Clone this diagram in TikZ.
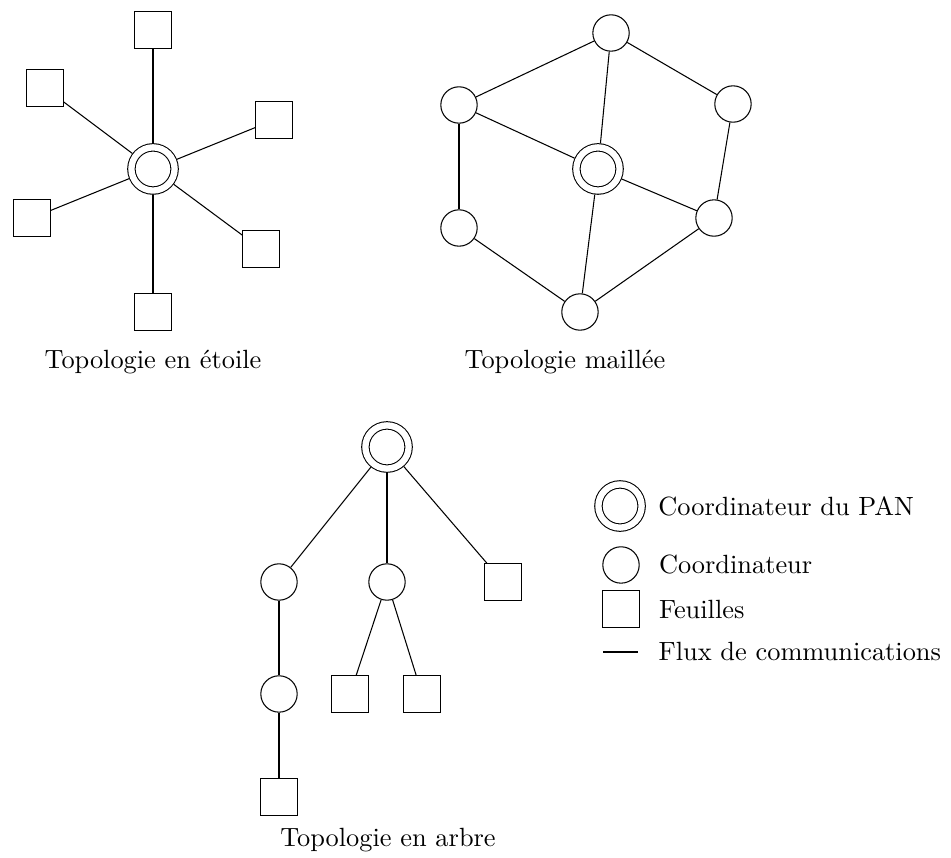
\documentclass[tikz,border=0pt]{standalone}
\usepackage{tikz}
\usetikzlibrary{shapes,positioning}
\tikzstyle{coordpan} = [draw,circle,minimum size=0.576cm,inner sep=0pt,double,double distance=2.4pt,outer sep=1.6pt]
\tikzstyle{coordo} = [draw,circle,minimum size=0.485cm,inner sep=0pt]
\tikzstyle{feuille} = [draw,rectangle,minimum size=0.485cm,inner sep=0pt]
\tikzstyle{legende} = [anchor=west,inner sep=0pt]

\begin{document}
\begin{tikzpicture}
            \useasboundingbox (0,0) rectangle (12.68,-11.427);

            % Topologie en etoile
            \node[coordpan] (s0) at (2.04,-2.253) {};
            \node[feuille] (s1) at (2.04,-0.4) {};
            \node[feuille] (s2) at (0.6,-1.173) {};
            \node[feuille] (s3) at (3.653,-1.6) {};
            \node[feuille] (s4) at (0.427,-2.907) {};
            \node[feuille] (s5) at (3.48,-3.32) {};
            \node[feuille] (s6) at (2.04,-4.16) {};
            \node (setoile) at (2.04,-4.827) {Topologie en étoile};

            \draw (s0) -- (s1);
            \draw (s0) -- (s2);
            \draw (s0) -- (s3);
            \draw (s0) -- (s4);
            \draw (s0) -- (s5);
            \draw (s0) -- (s6);

            % Topologie maillee
            \node[coordpan] (m0) at (7.973,-2.253) {};
            \node[coordo] (m1) at (8.147,-0.44) {};
            \node[coordo] (m2) at (6.12,-1.4) {};
            \node[coordo] (m3) at (9.773,-1.387) {};
            \node[coordo] (m4) at (6.12,-3.04) {};
            \node[coordo] (m5) at (9.52,-2.907) {};
            \node[coordo] (m6) at (7.733,-4.16) {};
            \node (smaille) at (7.533,-4.827) {Topologie maillée};

            \draw (m1) -- (m2);
            \draw (m1) -- (m3);
            \draw (m1) -- (m0);
            \draw (m2) -- (m0);
            \draw (m2) -- (m4);
            \draw (m3) -- (m5);
            \draw (m0) -- (m5);
            \draw (m0) -- (m6);
            \draw (m4) -- (m6);
            \draw (m5) -- (m6);

            % Topologie en arbre
            \node[coordpan] (a0) at (5.16,-5.96) {};
            \node[coordo] (a1) at (3.72,-7.76) {};
            \node[coordo] (a2) at (5.16,-7.76) {};
            \node[feuille] (a3) at (6.707,-7.76) {};
            \node[coordo] (a4) at (3.72,-9.253) {};
            \node[feuille] (a5) at (3.72,-10.627) {};
            \node[feuille] (a6) at (4.667,-9.253) {};
            \node[feuille] (a7) at (5.627,-9.253) {};
            \node (sarbre) at (5.173,-11.2) {Topologie en arbre};

            \draw (a0) -- (a1);
            \draw (a0) -- (a2);
            \draw (a0) -- (a3);
            \draw (a1) -- (a4);
            \draw (a4) -- (a5);
            \draw (a2) -- (a6);
            \draw (a2) -- (a7);

            % Legende
            \node[coordpan] (lpan) at (8.267,-6.747) {};
            \node[coordo] (lcoordo) at (8.28,-7.533) {};
            \node[feuille] (lfeuille) at (8.28,-8.12) {};
            \coordinate (lflux1) at (8.04,-8.693);
            \coordinate (lflux2) at (8.507,-8.693);
            \draw (lflux1) -- (lflux2);

            \node[legende, right=0.16cm of lpan] (tpan) {Coordinateur du PAN};
            \node[legende, right=0.25cm of lcoordo] (tcoordo) {Coordinateur};
            \node[legende, right=0.25cm of lfeuille] (tfeuille) {Feuilles};
            \node[legende, right=0.267cm of lflux2] (tflux) {Flux de communications};
        \end{tikzpicture}
\end{document}
